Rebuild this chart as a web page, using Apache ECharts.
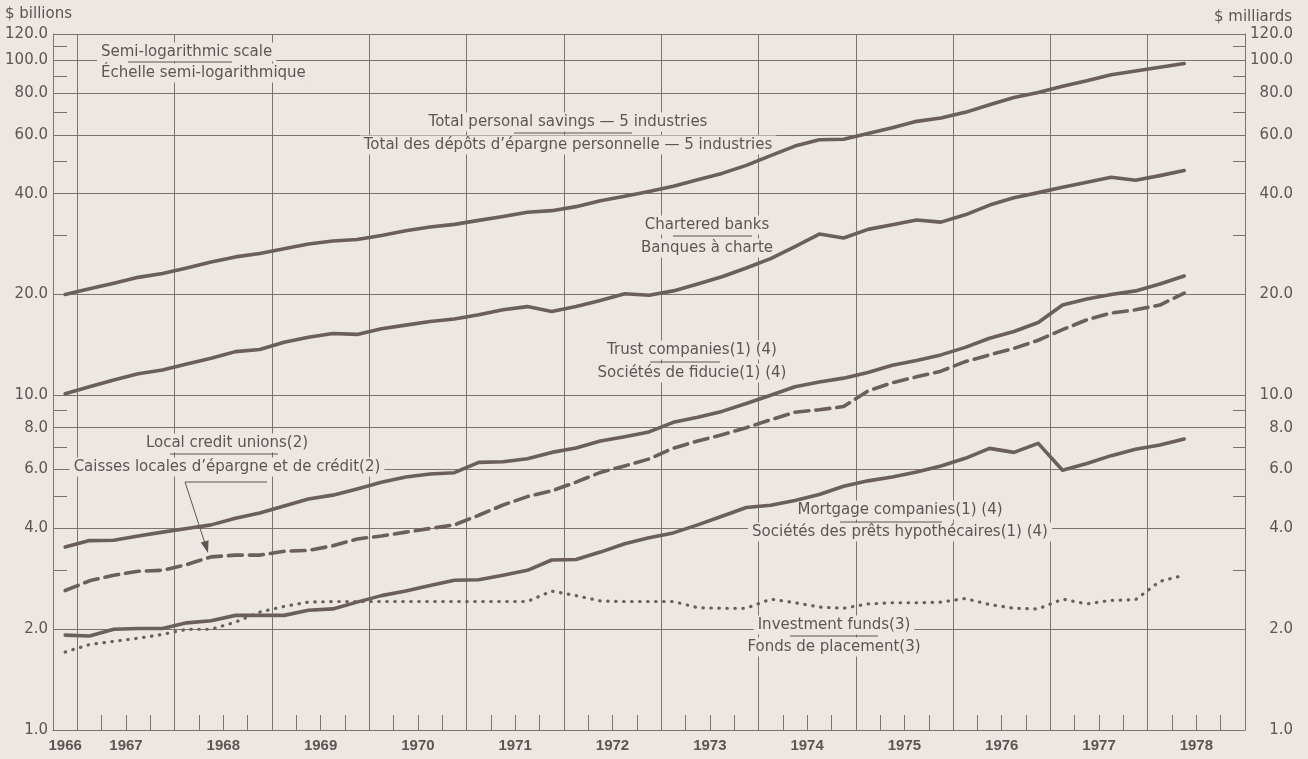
<!DOCTYPE html>
<html>
<head>
<meta charset="utf-8">
<script src="https://cdn.jsdelivr.net/npm/echarts@6/dist/echarts.min.js"></script>
<style>
html,body{margin:0;padding:0;background:#ece7e2;}
#chart{width:1308px;height:759px;}
</style>
</head>
<body>
<div id="chart"></div>
<script>
// Quarterly observations (mid-quarter), 1966 Q4 to 1978 Q2
const quarters = [
  '1966Q4',
  '1967Q1','1967Q2','1967Q3','1967Q4',
  '1968Q1','1968Q2','1968Q3','1968Q4',
  '1969Q1','1969Q2','1969Q3','1969Q4',
  '1970Q1','1970Q2','1970Q3','1970Q4',
  '1971Q1','1971Q2','1971Q3','1971Q4',
  '1972Q1','1972Q2','1972Q3','1972Q4',
  '1973Q1','1973Q2','1973Q3','1973Q4',
  '1974Q1','1974Q2','1974Q3','1974Q4',
  '1975Q1','1975Q2','1975Q3','1975Q4',
  '1976Q1','1976Q2','1976Q3','1976Q4',
  '1977Q1','1977Q2','1977Q3','1977Q4',
  '1978Q1','1978Q2'
];

// $ billions
const totalSavings = [20.0,20.8,21.6,22.5,23.1,24.0,25.0,25.9,26.5,27.4,28.3,28.9,29.2,30.0,31.0,31.8,32.4,33.3,34.2,35.2,35.6,36.6,38.1,39.3,40.6,42.1,44.0,46.0,48.6,52.0,55.5,58.0,58.2,60.5,63.0,65.8,67.3,70.0,73.8,77.5,80.3,83.8,87.0,90.7,93.0,95.5,98.0];
const charteredBanks = [10.1,10.6,11.1,11.6,11.9,12.4,12.9,13.5,13.7,14.4,14.9,15.3,15.2,15.8,16.2,16.6,16.9,17.4,18.0,18.4,17.8,18.4,19.2,20.1,19.9,20.5,21.5,22.6,24.0,25.6,27.8,30.3,29.5,31.3,32.3,33.4,32.9,34.6,37.0,38.9,40.3,41.8,43.3,44.8,43.9,45.3,46.9];
const trustCompanies = [3.52,3.68,3.69,3.80,3.90,4.00,4.10,4.29,4.45,4.67,4.90,5.03,5.25,5.50,5.70,5.82,5.87,6.30,6.33,6.46,6.75,6.96,7.30,7.52,7.77,8.30,8.60,8.95,9.45,10.0,10.6,10.95,11.25,11.7,12.3,12.7,13.2,13.9,14.8,15.5,16.5,18.6,19.4,20.0,20.5,21.5,22.7];
const creditUnions = [2.61,2.79,2.90,2.98,3.00,3.12,3.29,3.33,3.33,3.42,3.44,3.55,3.72,3.80,3.90,4.00,4.10,4.38,4.70,4.98,5.18,5.50,5.88,6.15,6.45,6.95,7.30,7.62,8.00,8.45,8.90,9.05,9.25,10.3,10.9,11.35,11.8,12.6,13.2,13.8,14.6,15.7,16.8,17.6,18.0,18.6,20.2];
const mortgageCompanies = [1.92,1.91,2.00,2.01,2.01,2.09,2.12,2.20,2.20,2.20,2.28,2.30,2.41,2.52,2.60,2.70,2.80,2.81,2.90,3.00,3.22,3.23,3.40,3.60,3.75,3.88,4.10,4.35,4.62,4.69,4.85,5.05,5.35,5.55,5.70,5.90,6.15,6.48,6.94,6.75,7.18,5.97,6.25,6.60,6.90,7.10,7.40];
const investmentFunds = [1.71,1.80,1.84,1.88,1.93,2.00,2.00,2.10,2.25,2.34,2.41,2.42,2.42,2.42,2.42,2.42,2.42,2.42,2.42,2.42,2.60,2.52,2.43,2.42,2.42,2.42,2.32,2.31,2.31,2.46,2.40,2.33,2.31,2.38,2.40,2.40,2.41,2.47,2.37,2.31,2.30,2.46,2.38,2.44,2.45,2.78,2.90];

// Axis ticks
const yMajor = [1, 2, 4, 6, 8, 10, 20, 40, 60, 80, 100, 120];
const yMinor = [3, 5, 7, 9, 30, 50, 70, 90, 110];
const yearLabels = ['1966','1967','1968','1969','1970','1971','1972','1973','1974','1975','1976','1977','1978'];
const xStart = 1966.75, xEnd = 1979;

const BG = '#ece7e2';
const INK = '#6b5f5e';
const TXT = '#5d5553';
const GRID = '#7a7370';
const FONT = '"DejaVu Sans", sans-serif';

function qToX(q) {
  const y = parseInt(q.slice(0, 4), 10);
  const n = parseInt(q.slice(5), 10);
  return y + (n - 1) * 0.25 + 0.125;
}
function pairs(vals) { return quarters.map((q, i) => [qToX(q), vals[i]]); }

// Quarter boundary tick positions and year gridline positions
const quarterTicks = [];
for (let v = xStart; v <= xEnd + 1e-9; v += 0.25) quarterTicks.push(+v.toFixed(3));
const yearLines = yearLabels.slice(1).map(y => +y);
const labelPos = yearLabels.map((y, i) => i === 0 ? qToX(quarters[0]) : +y + 0.5);

const chart = echarts.init(document.getElementById('chart'), null, {renderer: 'canvas'});

const baseY = {
  type: 'log', logBase: 10, min: 1, max: 120, gridIndex: 0
};

function lineSeries(name, vals, dash) {
  return {
    name, type: 'line', data: pairs(vals), xAxisIndex: 0, yAxisIndex: 0,
    showSymbol: false, symbol: 'none', silent: true, z: 3,
    lineStyle: {color: INK, width: dash === 'dot' ? 3.2 : 3.6, type: dash === 'dash' ? [14, 7] : dash === 'dot' ? [0.5, 7.5] : 'solid', cap: 'round', join: 'round'}
  };
}

function label(x, y, text, align) {
  return {
    type: 'text', x, y, z: 1, silent: true,
    style: {
      text, font: '15px ' + FONT, fill: TXT,
      align: align || 'center', verticalAlign: 'middle',
      textAlign: align || 'center', textVerticalAlign: 'middle',
      backgroundColor: BG, padding: [2, 4]
    }
  };
}
function uline(x1, x2, y) {
  return {type: 'line', z: 2, silent: true, shape: {x1, y1: y, x2, y2: y}, style: {stroke: TXT, lineWidth: 1}};
}

const option = {
  backgroundColor: BG,
  animation: false,
  grid: {left: 53, right: 63, top: 34, bottom: 29, containLabel: false},
  xAxis: [
    {
      type: 'value', min: xStart, max: xEnd, position: 'bottom',
      axisLine: {show: true, onZero: false, lineStyle: {color: GRID, width: 1}},
      axisTick: {show: true, inside: true, length: 15, customValues: quarterTicks, lineStyle: {color: GRID}},
      axisLabel: {
        show: true, customValues: labelPos, margin: 8,
        formatter: v => String(Math.floor(v)),
        color: TXT, fontFamily: '"Liberation Sans", Arial, sans-serif', fontWeight: 'bold', fontSize: 15
      },
      splitLine: {show: false}
    },
    {
      type: 'value', min: xStart, max: xEnd, position: 'bottom',
      axisLine: {show: false}, axisLabel: {show: false},
      axisTick: {show: false, customValues: yearLines},
      splitLine: {show: true, lineStyle: {color: GRID, width: 1}}
    }
  ],
  yAxis: [
    Object.assign({}, baseY, {
      position: 'left',
      axisLine: {show: true, lineStyle: {color: GRID, width: 1}},
      axisTick: {show: true, inside: true, length: 14, customValues: yMinor, lineStyle: {color: GRID}},
      axisLabel: {show: true, customValues: yMajor, margin: 5, formatter: v => Number(v).toFixed(1), color: TXT, fontFamily: FONT, fontSize: 15},
      splitLine: {show: false}
    }),
    Object.assign({}, baseY, {
      position: 'right',
      axisLine: {show: true, lineStyle: {color: GRID, width: 1}},
      axisTick: {show: false, customValues: yMajor},
      axisLabel: {show: true, customValues: yMajor, margin: 48, align: 'right', formatter: v => Number(v).toFixed(1), color: TXT, fontFamily: FONT, fontSize: 15},
      splitLine: {show: true, lineStyle: {color: GRID, width: 1}}
    }),
    Object.assign({}, baseY, {
      position: 'right',
      axisLine: {show: false},
      axisTick: {show: true, inside: true, length: 12, customValues: yMinor, lineStyle: {color: GRID}},
      axisLabel: {show: false},
      splitLine: {show: false}
    })
  ],
  series: [
    lineSeries('Total personal savings — 5 industries', totalSavings),
    lineSeries('Chartered banks', charteredBanks),
    lineSeries('Trust companies', trustCompanies),
    lineSeries('Local credit unions', creditUnions, 'dash'),
    lineSeries('Mortgage companies', mortgageCompanies),
    lineSeries('Investment funds', investmentFunds, 'dot')
  ],
  graphic: [
    {type: 'text', x: 5, y: 14, silent: true, style: {text: '$ billions', font: '15px ' + FONT, fill: TXT, align: 'left', verticalAlign: 'middle', textAlign: 'left', textVerticalAlign: 'middle'}},
    {type: 'text', x: 1292, y: 17, silent: true, style: {text: '$ milliards', font: '15px ' + FONT, fill: TXT, align: 'right', verticalAlign: 'middle', textAlign: 'right', textVerticalAlign: 'middle'}},

    label(97, 52, 'Semi-logarithmic scale', 'left'),
    label(97, 73, 'Échelle semi-logarithmique', 'left'),
    uline(128, 232, 62),

    label(568, 122, 'Total personal savings — 5 industries'),
    label(568, 145, 'Total des dépôts d\u2019épargne personnelle — 5 industries'),
    uline(514, 632, 133),

    label(707, 225, 'Chartered banks'),
    label(707, 248, 'Banques à charte'),
    uline(673, 752, 236),

    label(692, 350, 'Trust companies(1) (4)'),
    label(692, 373, 'Sociétés de fiducie(1) (4)'),
    uline(650, 720, 362),

    label(227, 443, 'Local credit unions(2)'),
    label(227, 467, 'Caisses locales d\u2019épargne et de crédit(2)'),
    uline(170, 278, 454),
    {type: 'polyline', z: 2, silent: true, shape: {points: [[267, 482], [185, 482], [205.5, 545]]}, style: {stroke: TXT, lineWidth: 1, fill: null}},
    {type: 'polygon', z: 2, silent: true, shape: {points: [[208, 553], [208.6, 540.2], [200.8, 542.6]]}, style: {fill: TXT}},

    label(900, 510, 'Mortgage companies(1) (4)'),
    label(900, 532, 'Sociétés des prêts hypothécaires(1) (4)'),
    uline(840, 942, 522),

    label(834, 625, 'Investment funds(3)'),
    label(834, 647, 'Fonds de placement(3)'),
    uline(790, 878, 636)
  ]
};

chart.setOption(option);
</script>
</body>
</html>
